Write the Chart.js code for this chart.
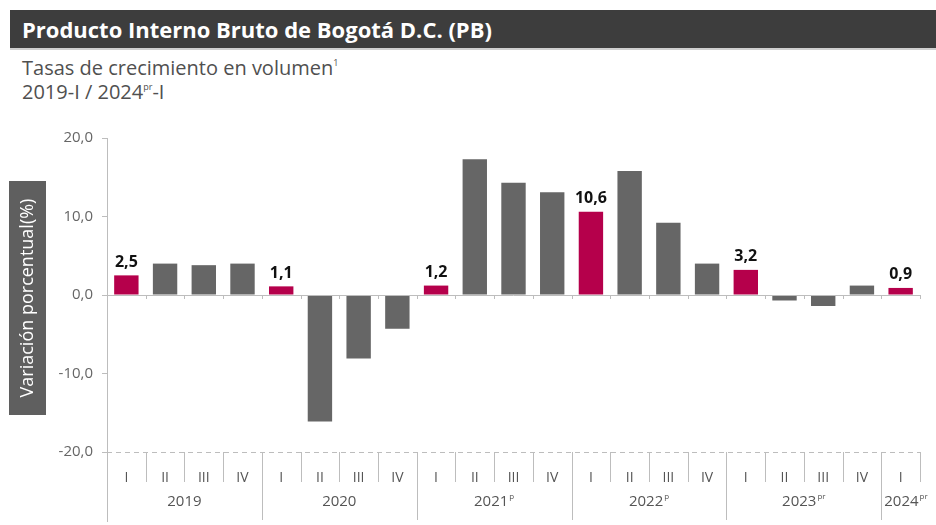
<!DOCTYPE html>
<html>
<head>
<meta charset="utf-8">
<script src="https://cdn.jsdelivr.net/npm/chart.js@4"></script>
<style>
  html, body { margin: 0; padding: 0; background: #fff; }
  body { width: 936px; height: 525px; position: relative; overflow: hidden; font-family: "Open Sans", sans-serif; }
  #titleBar { position: absolute; left: 10px; top: 10px; width: 926px; height: 38px; background: #3d3d3d; border-bottom: 2px solid #cfcfcf; }
  #titleBar span { position: absolute; left: 12px; top: 4px; color: #fff; font-weight: bold; font-size: 22px; }
  #sub { position: absolute; left: 22px; top: 56px; color: #505050; font-size: 20px; line-height: 24px; }
  #sub sup { font-size: 9px; vertical-align: 9px; line-height: 0; }
  #cv { position: absolute; left: 0; top: 0; }
</style>
</head>
<body>
<div id="titleBar"><span>Producto Interno Bruto de Bogotá D.C. (PB)</span></div>
<div id="sub">Tasas de crecimiento en volumen<sup>1</sup><br>2019-I / 2024<sup>pr</sup>-I</div>
<canvas id="cv" width="936" height="525"></canvas>
<script>
/* PIB Bogotá — tasas de crecimiento trimestrales */
'use strict';

const quarters = ['I','II','III','IV','I','II','III','IV','I','II','III','IV','I','II','III','IV','I','II','III','IV','I'];
const valores  = [2.5, 4.0, 3.8, 4.0, 1.1, -16.1, -8.1, -4.3, 1.2, 17.3, 14.3, 13.1, 10.6, 15.8, 9.2, 4.0, 3.2, -0.7, -1.4, 1.2, 0.9];
const years    = ['2019','2020','2021','2022','2023','2024'];
const yearSup  = ['', '', 'p', 'p', 'pr', 'pr'];
const yearSize = [4, 4, 4, 4, 4, 1];
const yTicks   = [-20, -10, 0, 10, 20];

const GRAY = '#666666';
const RED = '#b5004b';
const LINE = '#bdbdbd';

const fmt = (n) => n.toFixed(1).replace('.', ',');
// primer trimestre de cada año en rojo
const colors = quarters.map((q) => q === 'I' ? RED : GRAY);

const extras = {
  id: 'extras',
  afterDraw(chart) {
    const c = chart.ctx;
    const y = chart.scales.y;
    const area = chart.chartArea;
    const step = (area.right - area.left) / quarters.length;
    const y0 = y.getPixelForValue(0);
    const yb = y.getPixelForValue(-20);
    c.save();

    // linea cero
    c.strokeStyle = LINE; c.lineWidth = 1;
    c.beginPath(); c.moveTo(area.left, y0 + 0.5); c.lineTo(area.right, y0 + 0.5); c.stroke();
    for (let i = 1; i <= quarters.length; i++) {
      const px = Math.round(area.left + i * step) + 0.5;
      c.beginPath(); c.moveTo(px, y0); c.lineTo(px, y0 + 4); c.stroke();
    }

    // linea base punteada
    c.setLineDash([5, 4]);
    c.beginPath(); c.moveTo(area.left, yb + 0.5); c.lineTo(area.right, yb + 0.5); c.stroke();
    c.setLineDash([]);

    // separadores trimestre / año
    let idx = 0;
    const yearStarts = [0];
    yearSize.forEach((n) => { idx += n; yearStarts.push(idx); });
    for (let i = 0; i <= quarters.length; i++) {
      const px = Math.round(area.left + i * step) + 0.5;
      const long = yearStarts.includes(i) && i < quarters.length;
      c.beginPath(); c.moveTo(px, yb); c.lineTo(px, long ? 520 : 482); c.stroke();
    }

    // etiquetas de año
    c.fillStyle = '#555';
    c.textBaseline = 'alphabetic';
    years.forEach((yr, k) => {
      const a = yearStarts[k], b = yearStarts[k + 1];
      const cx = area.left + (a + b) / 2 * step;
      c.font = '15px "Open Sans"';
      const w1 = c.measureText(yr).width;
      c.font = '8px "Open Sans"';
      const w2 = yearSup[k] ? c.measureText(yearSup[k]).width + 1 : 0;
      let sx = cx - (w1 + w2) / 2;
      const minX = area.left + a * step + 3;
      if (sx < minX) sx = minX;
      c.font = '15px "Open Sans"';
      c.textAlign = 'left';
      c.fillText(yr, sx, 506);
      if (yearSup[k]) {
        c.font = '8px "Open Sans"';
        c.fillText(yearSup[k], sx + w1 + 1, 499);
      }
    });

    // etiquetas de datos (solo barras rojas)
    const meta = chart.getDatasetMeta(0);
    c.fillStyle = '#111';
    c.font = 'bold 16px "Open Sans"';
    c.textAlign = 'center';
    c.textBaseline = 'bottom';
    meta.data.forEach((bar, i) => {
      if (colors[i] !== RED) return;
      c.fillText(fmt(valores[i]), bar.x, bar.y - 5);
    });

    // prolongar eje y
    c.strokeStyle = LINE;
    c.beginPath(); c.moveTo(area.left + 0.5, area.bottom); c.lineTo(area.left + 0.5, 522); c.stroke();

    // titulo eje y
    c.fillStyle = '#5f5f5f';
    c.fillRect(9, 181, 37, 234);
    c.translate(28, 298);
    c.rotate(-Math.PI / 2);
    c.fillStyle = '#fff';
    c.font = '18px "Open Sans"';
    c.textAlign = 'center';
    c.textBaseline = 'middle';
    c.fillText('Variación porcentual(%)', 0, 0);
    c.restore();
  }
};

new Chart(document.getElementById('cv').getContext('2d'), {
  type: 'bar',
  data: {
    labels: quarters,
    datasets: [{
      data: valores,
      backgroundColor: colors,
      borderWidth: 0,
      categoryPercentage: 1,
      barPercentage: 0.63,
    }],
  },
  options: {
    responsive: false,
    animation: false,
    events: [],
    layout: { padding: { top: 138, right: 16, bottom: 0, left: 0 } },
    plugins: { legend: { display: false }, tooltip: { enabled: false } },
    scales: {
      x: {
        grid: { display: false },
        border: { display: false },
        ticks: { color: '#555', font: { family: 'Open Sans', size: 14 }, padding: 10, maxRotation: 0, autoSkip: false },
        afterFit: (s) => { s.height = 73; },
      },
      y: {
        min: -20, max: 20,
        afterBuildTicks: (s) => { s.ticks = yTicks.map((v) => ({ value: v })); },
        grid: { drawOnChartArea: false, drawTicks: true, tickLength: 5, color: LINE },
        border: { display: true, color: LINE },
        ticks: { color: '#666', font: { family: 'Open Sans', size: 15 }, padding: 9, callback: (v) => fmt(v) },
        afterFit: (s) => { s.width = 107; },
      },
    },
  },
  plugins: [extras],
});
</script>
</body>
</html>
